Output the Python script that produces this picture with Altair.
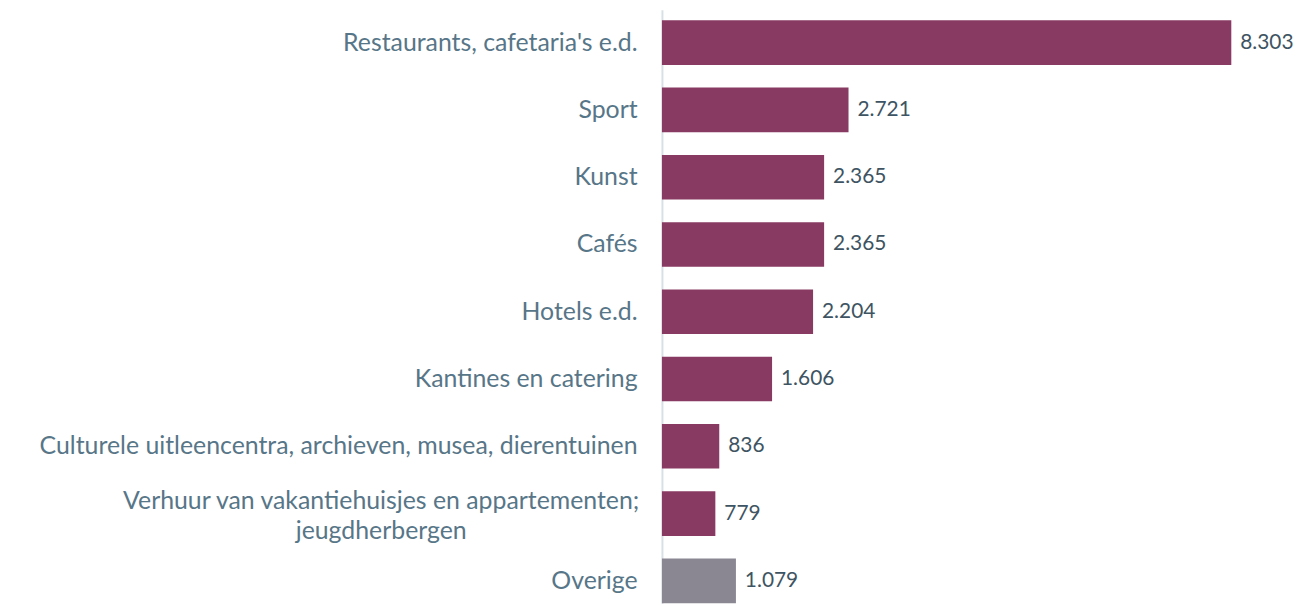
import altair as alt
import pandas as pd

categories = [
    "Restaurants, cafetaria's e.d.",
    "Sport",
    "Kunst",
    "Cafés",
    "Hotels e.d.",
    "Kantines en catering",
    "Culturele uitleencentra, archieven, musea, dierentuinen",
    "Verhuur van vakantiehuisjes en appartementen;|jeugdherbergen",
    "Overige",
]
values = [8303, 2721, 2365, 2365, 2204, 1606, 836, 779, 1079]
groups = ["main"] * 8 + ["other"]

df = pd.DataFrame({"cat": categories, "value": values, "group": groups})

FONT = "Lato"
WRAP_TEST = "indexof(datum.label, '|') >= 0"

y_enc = alt.Y(
    "cat:N",
    sort=categories,
    title=None,
    scale=alt.Scale(paddingInner=0.336, paddingOuter=0.078, align=1),
    axis=alt.Axis(
        labelExpr="split(datum.label, '|')",
        labelFont=FONT,
        labelFontSize=25,
        labelColor="#577688",
        labelPadding={"condition": {"test": WRAP_TEST, "value": 283}, "value": 25},
        labelAlign={"condition": {"test": WRAP_TEST, "value": "center"}, "value": "right"},
        labelLineHeight=31,
        labelLimit=700,
        labelOffset={"condition": {"test": WRAP_TEST, "value": -13}, "value": 0},
        ticks=False,
        domainColor="#d8e0e6",
        domainWidth=2,
        grid=False,
    ),
)

bars = alt.Chart(df).mark_bar().encode(
    y=y_enc,
    x=alt.X("value:Q", axis=None, scale=alt.Scale(domain=[0, 9000], nice=False)),
    color=alt.Color(
        "group:N",
        scale=alt.Scale(domain=["main", "other"], range=["#883a62", "#8a8793"]),
        legend=None,
    ),
)

labels = alt.Chart(df).transform_calculate(
    lab="replace(format(datum.value, ',d'), ',', '.')"
).mark_text(
    align="left", baseline="middle", dx=9, font=FONT, fontSize=21, color="#3e5462"
).encode(
    y=alt.Y("cat:N", sort=categories),
    x=alt.X("value:Q"),
    text="lab:N",
)

chart = (
    alt.layer(bars, labels)
    .properties(
        width=621,
        height=597,
        padding={"left": 658, "top": 0, "right": 16, "bottom": 0},
        autosize=alt.AutoSizeParams(type="none"),
    )
    .configure_view(stroke=None)
)

chart.save("out.html", embed_options={"renderer": "svg", "actions": False})
